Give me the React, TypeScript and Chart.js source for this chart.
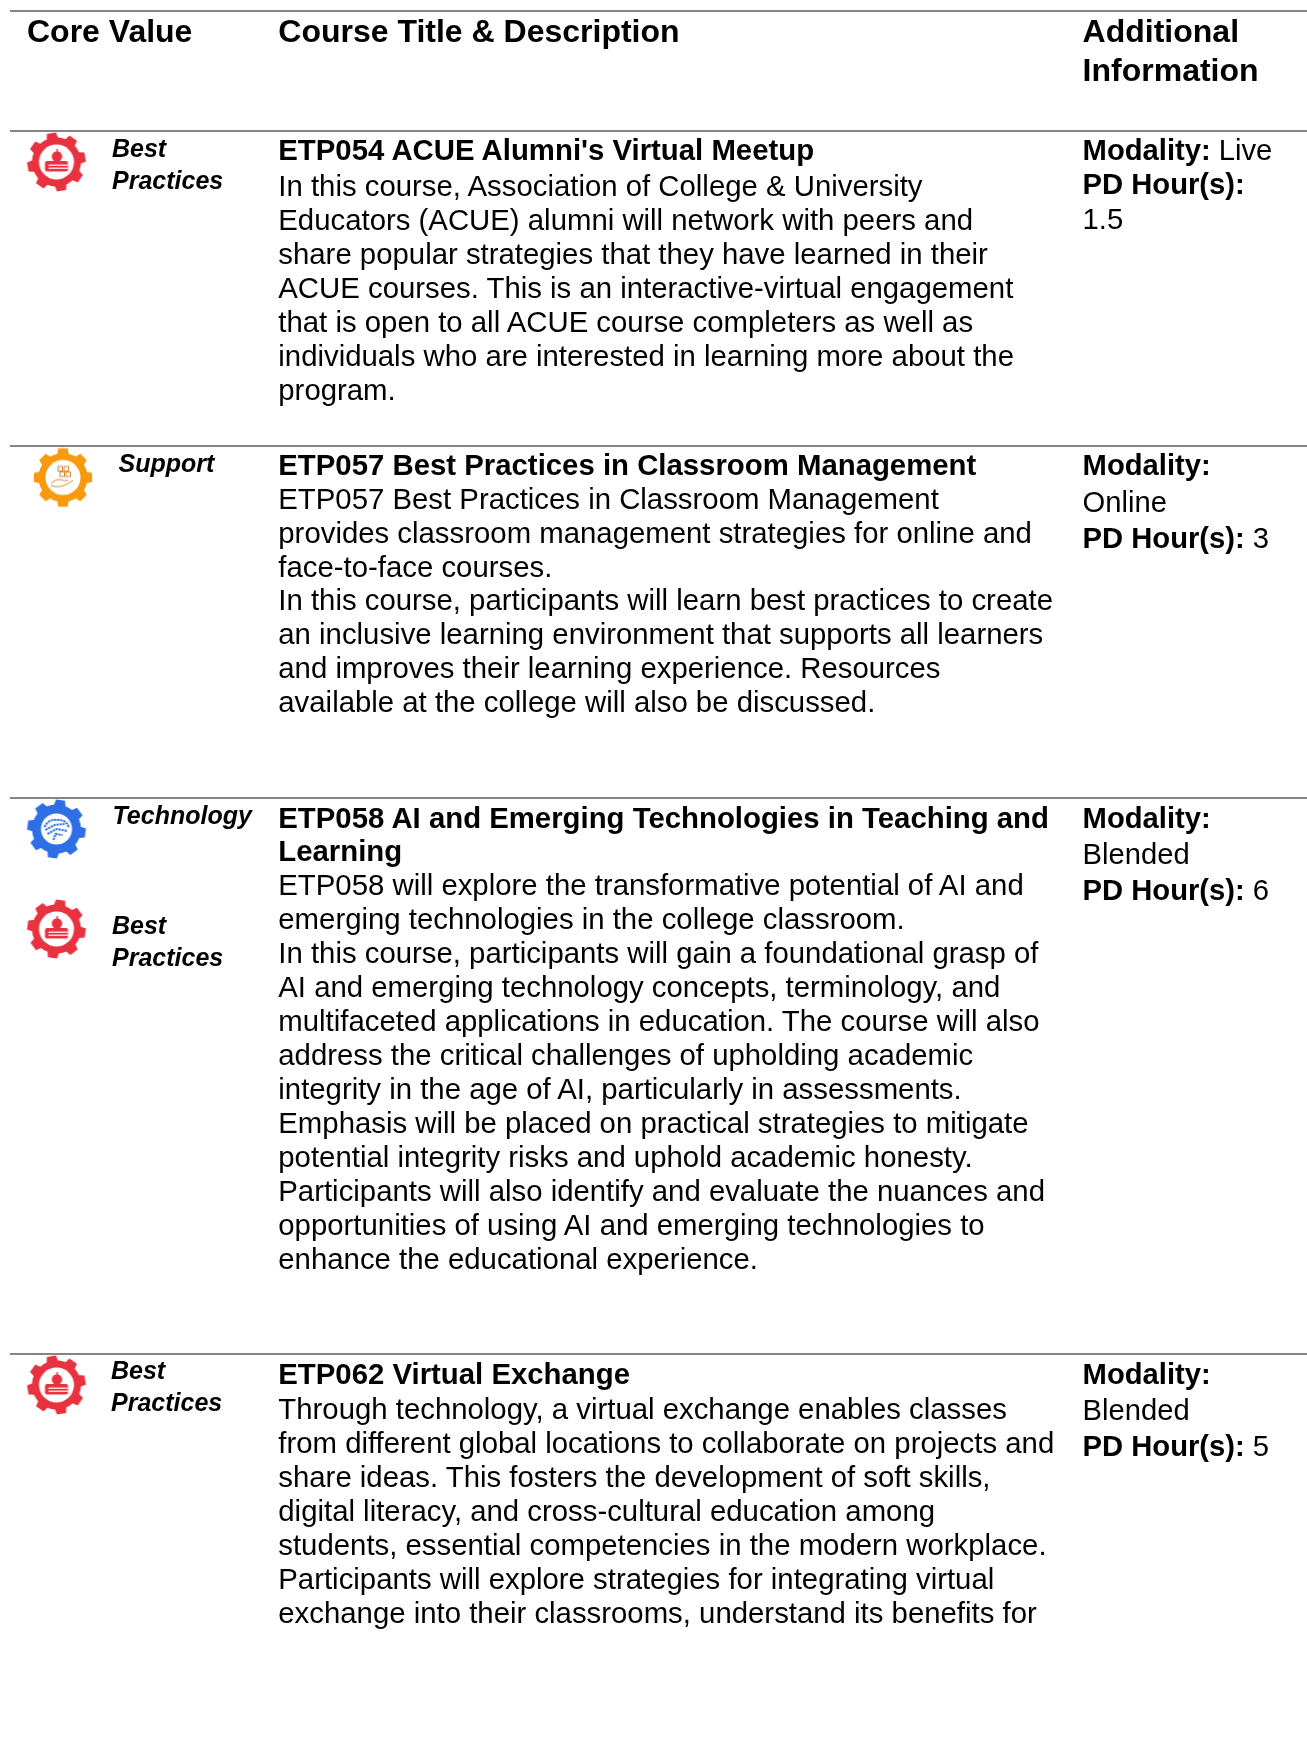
import React, { useEffect, useRef } from "react";
import { Chart, registerables } from "chart.js";

Chart.register(...registerables);

// ---- content ----
const headerCore = ["Core Value"];
const headerCourse = ["Course Title & Description"];
const headerInfo = ["Additional", "Information"];

const coreValues = [["Best Practices"], ["Support"], ["Technology", "Best Practices"], ["Best Practices"]];

const titles = [
  ["ETP054 ACUE Alumni's Virtual Meetup"],
  ["ETP057 Best Practices in Classroom Management"],
  ["ETP058 AI and Emerging Technologies in Teaching and", "Learning"],
  ["ETP062 Virtual Exchange"],
];

const body1 = [
  "In this course, Association of College & University",
  "Educators (ACUE) alumni will network with peers and",
  "share popular strategies that they have learned in their",
  "ACUE courses. This is an interactive-virtual engagement",
  "that is open to all ACUE course completers as well as",
  "individuals who are interested in learning more about the",
  "program.",
];
const body2 = [
  "ETP057 Best Practices in Classroom Management",
  "provides classroom management strategies for online and",
  "face-to-face courses.",
  "In this course, participants will learn best practices to create",
  "an inclusive learning environment that supports all learners",
  "and improves their learning experience. Resources",
  "available at the college will also be discussed.",
];
const body3 = [
  "ETP058 will explore the transformative potential of AI and",
  "emerging technologies in the college classroom.",
  "In this course, participants will gain a foundational grasp of",
  "AI and emerging technology concepts, terminology, and",
  "multifaceted applications in education. The course will also",
  "address the critical challenges of upholding academic",
  "integrity in the age of AI, particularly in assessments.",
  "Emphasis will be placed on practical strategies to mitigate",
  "potential integrity risks and uphold academic honesty.",
  "Participants will also identify and evaluate the nuances and",
  "opportunities of using AI and emerging technologies to",
  "enhance the educational experience.",
];
const body4 = [
  "Through technology, a virtual exchange enables classes",
  "from different global locations to collaborate on projects and",
  "share ideas. This fosters the development of soft skills,",
  "digital literacy, and cross-cultural education among",
  "students, essential competencies in the modern workplace.",
  "Participants will explore strategies for integrating virtual",
  "exchange into their classrooms, understand its benefits for",
];
const bodies = [body1, body2, body3, body4];

const modalities = ["Live", "Online", "Blended", "Blended"];
const pdHours = ["1.5", "3", "6", "5"];

// ---- layout (pixels of the page) ----
const W = 1307;
const H = 1739;
const RULES = [11, 131, 446, 798, 1354];
const COL_A = 27;
const COL_B = 278.3;
const COL_C = 1082.6;
const TITLE_Y = [150, 465, 817.5, 1373.5];
const BODY_Y = [186.3, 498.7, 884.5, 1409];
const BODY_STEP = [34, 33.9, 34, 34];
const INFO_STEP = [34.4, 36.6, 36.4, 36.4];
const GEARS = [
  { x: 56.5, y: 162, kind: "red", rot: -10 },
  { x: 63, y: 477.5, kind: "orange", rot: 0 },
  { x: 56.5, y: 829, kind: "blue", rot: 8 },
  { x: 56.5, y: 929, kind: "red", rot: 8 },
  { x: 56.5, y: 1385, kind: "red", rot: -10 },
];
const CORE_LABELS = [
  { row: 0, i: 0, x: 112, y: 148 },
  { row: 1, i: 0, x: 118.5, y: 463 },
  { row: 2, i: 0, x: 112.5, y: 815 },
  { row: 2, i: 1, x: 112, y: 925 },
  { row: 3, i: 0, x: 111, y: 1370 },
];
const GEAR_COLOR: Record<string, string> = { red: "#E8323F", orange: "#F99A0E", blue: "#2E6FE6" };

function makeGear(kind: string, rot: number) {
  const S = 62;
  const c = document.createElement("canvas");
  c.width = S;
  c.height = S;
  const g = c.getContext("2d")!;
  const col = GEAR_COLOR[kind];
  g.translate(S / 2, S / 2);
  g.rotate((rot * Math.PI) / 180);
  g.fillStyle = col;
  g.beginPath();
  const N = 8;
  const rTip = 29.5;
  const rRoot = 24.5;
  for (let i = 0; i < N; i++) {
    const a = (i * 2 * Math.PI) / N - Math.PI / 2;
    const d = (2 * Math.PI) / N;
    const pts: [number, number][] = [
      [rRoot, a - d * 0.3],
      [rTip, a - d * 0.2],
      [rTip, a + d * 0.2],
      [rRoot, a + d * 0.3],
    ];
    pts.forEach(([r, t]) => {
      g.lineTo(r * Math.cos(t), r * Math.sin(t));
    });
    g.arc(0, 0, rRoot, a + d * 0.3, a + d * 0.7);
  }
  g.closePath();
  g.fill();
  g.rotate((-rot * Math.PI) / 180);
  g.fillStyle = "#fff";
  g.beginPath();
  g.arc(0, 0, kind === "blue" ? 15.5 : 17.5, 0, Math.PI * 2);
  g.fill();

  g.fillStyle = col;
  g.strokeStyle = col;
  if (kind === "red") {
    g.beginPath();
    g.arc(0.5, -5.5, 5.2, 0, Math.PI * 2);
    g.fill();
    g.fillRect(0, -13, 1.4, 3.5);
    g.beginPath();
    g.roundRect(-11.5, -1, 23, 10.5, 2);
    g.fill();
    g.fillStyle = "#fff";
    g.fillRect(-8, 2.6, 19.5, 1.2);
    g.fillRect(-8, 5.6, 19.5, 1.2);
  } else if (kind === "orange") {
    g.lineWidth = 1;
    g.strokeStyle = "#D98A3A";
    g.strokeRect(-5, -11, 4.5, 4.5);
    g.strokeRect(1, -11, 4.5, 4.5);
    g.strokeRect(-3, -5.5, 4.5, 4.5);
    g.strokeRect(3, -5.5, 4.5, 4.5);
    g.beginPath();
    g.moveTo(-12, 6);
    g.quadraticCurveTo(-6, 0, 0, 3);
    g.lineTo(5, 3);
    g.moveTo(-12, 8);
    g.quadraticCurveTo(-2, 12, 10, 3);
    g.stroke();
  } else {
    g.lineWidth = 2.1;
    g.setLineDash([2.2, 0.9]);
    g.beginPath();
    g.moveTo(-12, -2);
    g.quadraticCurveTo(-8, -10, 0, -9);
    g.quadraticCurveTo(10, -10, 12.5, -1);
    g.moveTo(-11, 1);
    g.lineTo(-2, -4);
    g.lineTo(8, -5);
    g.moveTo(-9, 5);
    g.lineTo(0, 0);
    g.lineTo(11, 2);
    g.moveTo(-3, 11);
    g.lineTo(-1, 5);
    g.lineTo(6, 6);
    g.stroke();
  }
  return c;
}

const textBase: React.CSSProperties = {
  position: "absolute",
  whiteSpace: "pre",
  color: "#000",
  fontFamily: '"Liberation Sans", Arial, sans-serif',
  lineHeight: "34px",
};

function Line(props: { x: number; y: number; size: number; bold?: boolean; italic?: boolean; children: React.ReactNode }) {
  return (
    <div
      style={{
        ...textBase,
        left: props.x,
        top: props.y - 17,
        fontSize: props.size,
        fontWeight: props.bold ? 700 : 400,
        fontStyle: props.italic ? "italic" : "normal",
      }}
    >
      {props.children}
    </div>
  );
}

const BODY = 29.35;
const TITLE = 29.35;
const INFO = 29.2;
const HEAD = 32;
const CORE = 25;

export default function App() {
  const ref = useRef<HTMLCanvasElement>(null);
  useEffect(() => {
    const chart = new Chart(ref.current!, {
      type: "scatter",
      data: {
        datasets: GEARS.map((g) => ({
          data: [{ x: g.x, y: g.y }],
          pointStyle: makeGear(g.kind, g.rot) as any,
          pointRadius: 30,
        })),
      },
      options: {
        animation: false,
        responsive: false,
        events: [],
        layout: { autoPadding: false, padding: { left: 10, right: 0, top: 0, bottom: 0 } },
        plugins: { legend: { display: false }, tooltip: { enabled: false } },
        scales: {
          x: { type: "linear", min: 10, max: W, display: false },
          y: {
            type: "linear",
            min: 0,
            max: H,
            reverse: true,
            border: { display: false },
            ticks: { display: false },
            grid: { color: "#858585", lineWidth: 2, drawTicks: false },
            afterBuildTicks: (axis: any) => {
              axis.ticks = RULES.map((value) => ({ value }));
            },
          },
        },
      },
    });
    return () => chart.destroy();
  }, []);

  return (
    <div style={{ position: "absolute", left: 0, top: 0, width: W, height: H, overflow: "hidden", background: "#fff" }}>
      <canvas ref={ref} width={W} height={H} style={{ position: "absolute", left: 0, top: 0 }} />
      <Line x={COL_A} y={31} size={HEAD} bold>{headerCore[0]}</Line>
      <Line x={COL_B} y={31} size={HEAD} bold>{headerCourse[0]}</Line>
      {headerInfo.map((t, i) => (
        <Line key={t} x={COL_C} y={31 + i * 38.5} size={HEAD} bold>{t}</Line>
      ))}
      {CORE_LABELS.map((l, k) =>
        coreValues[l.row][l.i].split(" ").map((w, i) => (
          <Line key={k + w} x={l.x} y={l.y + i * 32} size={CORE} bold italic>{w}</Line>
        ))
      )}
      {titles.map((rows, r) =>
        rows.map((t, i) => (
          <Line key={t} x={COL_B} y={TITLE_Y[r] + i * 33.5} size={TITLE} bold>{t}</Line>
        ))
      )}
      {bodies.map((rows, r) =>
        rows.map((t, i) => (
          <Line key={r + "-" + i} x={COL_B} y={BODY_Y[r] + i * BODY_STEP[r]} size={BODY}>{t}</Line>
        ))
      )}
      {modalities.map((m, r) => {
        const y = TITLE_Y[r];
        const s = INFO_STEP[r];
        return r === 0 ? (
          <React.Fragment key={r}>
            <Line x={COL_C} y={y} size={INFO} bold>Modality: <span style={{ fontWeight: 400 }}>{m}</span></Line>
            <Line x={COL_C} y={y + s} size={INFO} bold>PD Hour(s):</Line>
            <Line x={COL_C} y={y + 2 * s} size={INFO}>{pdHours[r]}</Line>
          </React.Fragment>
        ) : (
          <React.Fragment key={r}>
            <Line x={COL_C} y={y} size={INFO} bold>Modality:</Line>
            <Line x={COL_C} y={y + s} size={INFO}>{m}</Line>
            <Line x={COL_C} y={y + 2 * s} size={INFO} bold>PD Hour(s): <span style={{ fontWeight: 400 }}>{pdHours[r]}</span></Line>
          </React.Fragment>
        );
      })}
    </div>
  );
}
